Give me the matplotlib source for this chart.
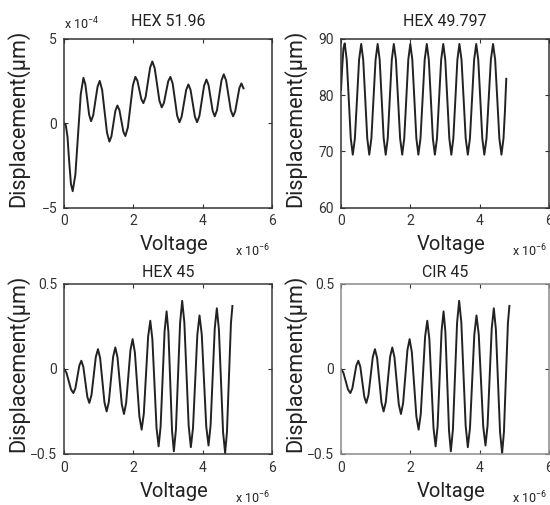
import matplotlib
matplotlib.use('Agg')
import matplotlib.pyplot as plt

plt.rcParams['font.family'] = ['Roboto', 'DejaVu Sans']
plt.rcParams['mathtext.fontset'] = 'custom'
plt.rcParams['mathtext.rm'] = 'Roboto'

# HEX 51.96  (voltage in 1e-6, displacement in 1e-4)
volt_hex5196 = [0, 0.05, 0.10, 0.15, 0.20, 0.25, 0.3275, 0.405, 0.4825, 0.56,
                0.615, 0.67, 0.725, 0.78, 0.8425, 0.905, 0.9675, 1.03, 1.10, 1.17,
                1.24, 1.31, 1.3675, 1.425, 1.4825, 1.54, 1.5975, 1.655, 1.7125, 1.77,
                1.8425, 1.915, 1.9875, 2.06, 2.1175, 2.175, 2.2325, 2.29, 2.355, 2.42,
                2.485, 2.55, 2.6175, 2.685, 2.7525, 2.82, 2.8825, 2.945, 3.0075, 3.07,
                3.135, 3.20, 3.265, 3.33, 3.395, 3.46, 3.525, 3.59, 3.6525, 3.715,
                3.7775, 3.84, 3.9075, 3.975, 4.0425, 4.11, 4.17, 4.23, 4.29, 4.35,
                4.415, 4.48, 4.545, 4.61, 4.6775, 4.745, 4.8125, 4.88, 4.94, 5.00,
                5.06, 5.12, 5.18]
disp_hex5196 = [0, -0.1, -0.8, -2.3, -3.6, -4.03, -3.05, -0.67, 1.71, 2.69,
                2.31, 1.41, 0.50, 0.12, 0.47, 1.32, 2.16, 2.51, 1.98, 0.71,
                -0.56, -1.09, -0.78, -0.02, 0.74, 1.05, 0.79, 0.15, -0.50, -0.76,
                -0.25, 1.00, 2.24, 2.75, 2.52, 1.97, 1.42, 1.19, 1.55, 2.43,
                3.30, 3.66, 3.26, 2.30, 1.34, 0.94, 1.20, 1.85, 2.49, 2.75,
                2.36, 1.41, 0.45, 0.06, 0.39, 1.18, 1.97, 2.30, 1.97, 1.18,
                0.39, 0.06, 0.43, 1.33, 2.22, 2.59, 2.27, 1.50, 0.73, 0.41,
                0.77, 1.66, 2.54, 2.90, 2.54, 1.66, 0.77, 0.41, 0.70, 1.39,
                2.08, 2.36, 2.07]

# HEX 49.797
volt_hex49797 = [0, 0.035, 0.07, 0.107, 0.165, 0.224, 0.282, 0.34, 0.401, 0.462,
                 0.522, 0.583, 0.641, 0.70, 0.758, 0.816, 0.877, 0.937, 0.998, 1.058,
                 1.116, 1.174, 1.232, 1.29, 1.349, 1.407, 1.466, 1.524, 1.585, 1.646,
                 1.706, 1.767, 1.825, 1.884, 1.942, 2.0, 2.058, 2.117, 2.175, 2.233,
                 2.294, 2.355, 2.415, 2.476, 2.534, 2.593, 2.651, 2.709, 2.770, 2.830,
                 2.891, 2.951, 3.009, 3.068, 3.126, 3.184, 3.242, 3.301, 3.359, 3.417,
                 3.478, 3.539, 3.599, 3.66, 3.721, 3.782, 3.842, 3.903, 3.961, 4.020,
                 4.078, 4.136, 4.199, 4.262, 4.325, 4.388, 4.449, 4.510, 4.570, 4.631,
                 4.69, 4.73, 4.77]
disp_hex49797 = [80.9, 85.0, 88.3, 89.2, 86.3, 79.3, 72.3, 69.4, 72.3, 79.3,
                 86.3, 89.1, 86.3, 79.3, 72.3, 69.4, 72.3, 79.3, 86.3, 89.1,
                 86.3, 79.3, 72.3, 69.4, 72.3, 79.3, 86.3, 89.1, 86.3, 79.3,
                 72.3, 69.4, 72.3, 79.3, 86.3, 89.1, 86.3, 79.3, 72.3, 69.4,
                 72.3, 79.3, 86.3, 89.1, 86.3, 79.3, 72.3, 69.4, 72.3, 79.3,
                 86.3, 89.1, 86.3, 79.3, 72.3, 69.4, 72.3, 79.3, 86.3, 89.1,
                 86.3, 79.3, 72.3, 69.4, 72.3, 79.3, 86.3, 89.1, 86.3, 79.3,
                 72.3, 69.4, 72.3, 79.3, 86.3, 89.1, 86.3, 79.3, 72.3, 69.4,
                 72.3, 77.0, 82.9]

# HEX 45 / CIR 45 (both runs give the same trace)
volt_45 = [0, 0.0675, 0.135, 0.2025, 0.27, 0.3275, 0.385, 0.4425, 0.5, 0.5575,
           0.615, 0.6725, 0.73, 0.7925, 0.855, 0.9175, 0.98, 1.0425, 1.105, 1.1675,
           1.23, 1.2925, 1.355, 1.4175, 1.48, 1.5425, 1.605, 1.6675, 1.73, 1.7925,
           1.855, 1.9175, 1.98, 2.045, 2.11, 2.175, 2.24, 2.3025, 2.365, 2.4275,
           2.49, 2.55, 2.61, 2.67, 2.73, 2.7875, 2.845, 2.9025, 2.96, 3.0125,
           3.065, 3.1175, 3.17, 3.23, 3.29, 3.35, 3.41, 3.4725, 3.535, 3.5975,
           3.66, 3.7225, 3.785, 3.8475, 3.91, 3.975, 4.04, 4.105, 4.17, 4.23,
           4.29, 4.35, 4.41, 4.47, 4.53, 4.59, 4.65, 4.7025, 4.76, 4.8175, 4.86]
disp_45 = [0, -0.021, -0.071, -0.121, -0.142, -0.114, -0.047, 0.020, 0.048, 0.012,
           -0.076, -0.164, -0.200, -0.154, -0.042, 0.070, 0.116, 0.063, -0.067, -0.197,
           -0.250, -0.195, -0.062, 0.071, 0.126, 0.069, -0.070, -0.208, -0.265, -0.201,
           -0.045, 0.111, 0.175, 0.097, -0.091, -0.279, -0.357, -0.264, -0.037, 0.190,
           0.283, 0.175, -0.086, -0.347, -0.455, -0.339, -0.059, 0.222, 0.338, 0.218,
           -0.073, -0.364, -0.484, -0.355, -0.042, 0.271, 0.400, 0.274, -0.030, -0.334,
           -0.460, -0.347, -0.073, 0.201, 0.314, 0.203, -0.068, -0.339, -0.450, -0.332,
           -0.047, 0.238, 0.356, 0.232, -0.070, -0.371, -0.495, -0.370, -0.047, 0.270,
           0.370]

titles = ['HEX 51.96', 'HEX 49.797', 'HEX 45', 'CIR 45']
xs = [volt_hex5196, volt_hex49797, volt_45, volt_45]
ys = [disp_hex5196, disp_hex49797, disp_45, disp_45]
ylims = [(-5, 5), (60, 90), (-0.5, 0.5), (-0.5, 0.5)]
yticks = [[-5, 0, 5], [60, 70, 80, 90], [-0.5, 0, 0.5], [-0.5, 0, 0.5]]
yticklabels = [['\u22125', '0', '5'], ['60', '70', '80', '90'],
               ['\u22120.5', '0', '0.5'], ['\u22120.5', '0', '0.5']]
xticks = [0, 2, 4, 6]

# axes boxes in figure fractions
boxes = [[0.1164, 0.589, 0.378, 0.334],
         [0.620, 0.589, 0.378, 0.334],
         [0.1164, 0.101, 0.378, 0.337],
         [0.620, 0.101, 0.378, 0.337]]
spine_col = ['#333333', '#333333', '#3a3a3a', '#8a8a8a']
title_pad = [9, 9, 5, 5]

fig = plt.figure(figsize=(5.5, 5.05), dpi=100)

for i in range(4):
    ax = fig.add_axes(boxes[i])
    ax.plot(xs[i], ys[i], color='#222222', lw=1.4)
    ax.set_xlim(0, 6)
    ax.set_ylim(*ylims[i])
    ax.set_xticks(xticks)
    ax.set_xticklabels([str(t) for t in xticks])
    ax.set_yticks(yticks[i])
    ax.set_yticklabels(yticklabels[i])
    ax.tick_params(direction='in', length=3, width=0.8, top=True, right=True,
                   labelsize=10, pad=5, colors='#333333')
    for s in ax.spines.values():
        s.set_color(spine_col[i])
        s.set_linewidth(1.1)
    ax.set_title(titles[i], fontsize=11.5, pad=title_pad[i], color='#222222')
    ax.set_xlabel('Voltage', fontsize=14.5, color='#222222')
    ax.set_ylabel('Displacement(\u03bcm)', fontsize=15.5, color='#222222')
    ax.xaxis.set_label_coords(0.53, -0.165)
    ax.yaxis.set_label_coords(-0.165, 0.53)
    ax.text(0.99, -0.29, r'x 10$^{-6}$', transform=ax.transAxes,
            ha='right', va='baseline', fontsize=9, color='#222222')

# exponent of the first panel's displacement axis
fig.axes[0].text(0.0, 1.04, r'x 10$^{-4}$', transform=fig.axes[0].transAxes,
                 ha='left', va='bottom', fontsize=9, color='#222222')

fig.savefig('out.png', dpi=100)
